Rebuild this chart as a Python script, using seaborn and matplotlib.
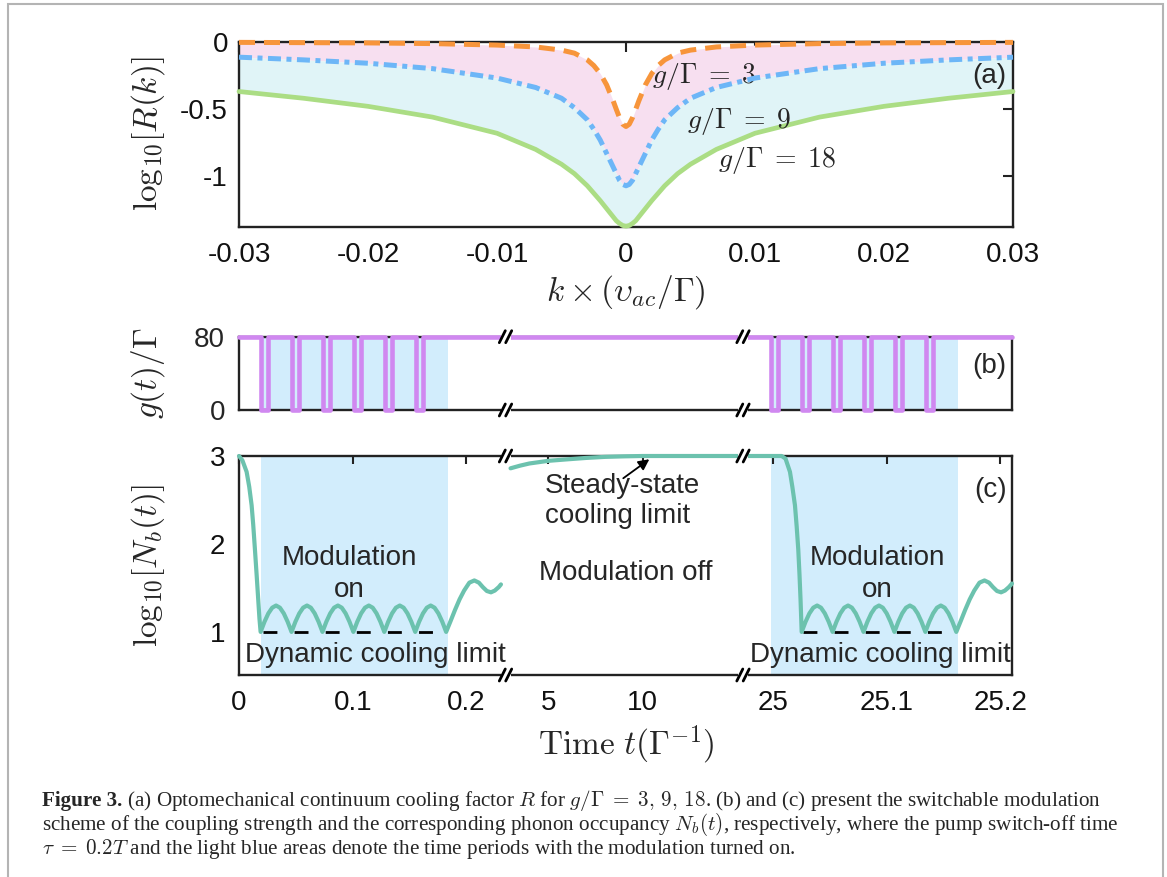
import numpy as np
import pandas as pd
import matplotlib
matplotlib.use("Agg")
import matplotlib.pyplot as plt
import seaborn as sns
from matplotlib.lines import Line2D
from matplotlib.patches import Rectangle

# ---------------- data ----------------
# panel (a): log10 R(k) for three coupling strengths
k_vals = [-0.03, -0.025, -0.02, -0.015, -0.01, -0.007, -0.005, -0.004, -0.003, -0.0025,
          -0.002, -0.0015, -0.001, -0.00075, -0.0005, -0.00025, 0.0, 0.00025, 0.0005,
          0.00075, 0.001, 0.0015, 0.002, 0.0025, 0.003, 0.004, 0.005, 0.007, 0.01,
          0.015, 0.02, 0.025, 0.03]
logR_g3 = [-0.005, -0.007, -0.009, -0.014, -0.025, -0.039, -0.0625, -0.085, -0.135, -0.177,
           -0.236, -0.321, -0.438, -0.503, -0.565, -0.613, -0.63, -0.613, -0.565, -0.503,
           -0.438, -0.321, -0.236, -0.177, -0.135, -0.085, -0.0625, -0.039, -0.025, -0.014,
           -0.009, -0.007, -0.005]
logR_g9 = [-0.115, -0.135, -0.16, -0.20, -0.27, -0.34, -0.42, -0.49, -0.58, -0.65,
           -0.73, -0.83, -0.93, -0.98, -1.03, -1.06, -1.07, -1.06, -1.03, -0.98,
           -0.93, -0.83, -0.73, -0.65, -0.58, -0.49, -0.42, -0.34, -0.27, -0.20,
           -0.16, -0.135, -0.115]
logR_g18 = [-0.37, -0.42, -0.48, -0.56, -0.68, -0.80, -0.91, -0.98, -1.07, -1.125,
            -1.18, -1.24, -1.30, -1.33, -1.35, -1.365, -1.37, -1.365, -1.35, -1.33,
            -1.30, -1.24, -1.18, -1.125, -1.07, -0.98, -0.91, -0.80, -0.68, -0.56,
            -0.48, -0.42, -0.37]
a_labels = [r"$g/\Gamma\;=\;3$", r"$g/\Gamma\;=\;9$", r"$g/\Gamma\;=\;18$"]
a_xticks = [-0.03, -0.02, -0.01, 0, 0.01, 0.02, 0.03]
a_xticklabels = ["-0.03", "-0.02", "-0.01", "0", "0.01", "0.02", "0.03"]
a_yticks = [0, -0.5, -1]
a_yticklabels = ["0", "-0.5", "-1"]

# panel (c): log10 N_b(t) on the three time windows
t_seg1 = [0.0, 0.003, 0.0067, 0.009, 0.0111, 0.0125, 0.014, 0.0155, 0.0169, 0.018, 0.019,
          0.0224, 0.0258, 0.0292, 0.0326, 0.036, 0.0394, 0.0428, 0.0462,
          0.0496, 0.053, 0.0564, 0.0598, 0.0632, 0.0666, 0.07, 0.0734,
          0.0768, 0.0802, 0.0836, 0.087, 0.0904, 0.0938, 0.0972, 0.1006,
          0.104, 0.1074, 0.1108, 0.1142, 0.1176, 0.121, 0.1244, 0.1278,
          0.1312, 0.1346, 0.138, 0.1414, 0.1448, 0.1482, 0.1516, 0.155,
          0.1584, 0.1618, 0.1652, 0.1686, 0.172, 0.1754, 0.1788, 0.1822,
          0.186, 0.19, 0.194, 0.198, 0.2026, 0.207, 0.211, 0.2144, 0.218, 0.2216,
          0.225, 0.2285, 0.2304]
nb_seg1 = [3.0, 2.95, 2.82, 2.65, 2.44, 2.22, 1.94, 1.65, 1.37, 1.15, 1.0,
           1.115, 1.21, 1.275, 1.30, 1.275, 1.21, 1.115, 1.0,
           1.115, 1.21, 1.275, 1.30, 1.275, 1.21, 1.115, 1.0,
           1.115, 1.21, 1.275, 1.30, 1.275, 1.21, 1.115, 1.0,
           1.115, 1.21, 1.275, 1.30, 1.275, 1.21, 1.115, 1.0,
           1.115, 1.21, 1.275, 1.30, 1.275, 1.21, 1.115, 1.0,
           1.115, 1.21, 1.275, 1.30, 1.275, 1.21, 1.115, 1.0,
           1.12, 1.25, 1.37, 1.47, 1.56, 1.585, 1.56, 1.51, 1.465, 1.45,
           1.47, 1.51, 1.54]
t_seg2 = [3.0, 3.5, 4.0, 5.0, 6.0, 7.0, 8.0, 9.0, 10.0, 12.0, 15.31]
nb_seg2 = [2.86, 2.89, 2.915, 2.945, 2.962, 2.978, 2.99, 2.996, 3.0, 3.0, 3.0]
t_seg3 = [24.9736, 25.0076, 25.011, 25.0149, 25.017, 25.0193, 25.0208, 25.0222, 25.0233,
          25.0242, 25.0248, 25.0252,
          25.0286, 25.032, 25.0354, 25.0388, 25.0422, 25.0456, 25.049, 25.0524,
          25.0558, 25.0592, 25.0626, 25.066, 25.0694, 25.0728, 25.0762, 25.0796,
          25.083, 25.0864, 25.0898, 25.0932, 25.0966, 25.1, 25.1034, 25.1068,
          25.1102, 25.1136, 25.117, 25.1204, 25.1238, 25.1272, 25.1306, 25.134,
          25.1374, 25.1408, 25.1442, 25.1476, 25.151, 25.1544, 25.1578, 25.1612,
          25.165, 25.169, 25.173, 25.177, 25.1816, 25.186, 25.19, 25.1934, 25.197,
          25.2006, 25.204, 25.2075, 25.2102]
nb_seg3 = [3.0, 3.0, 2.97, 2.82, 2.65, 2.44, 2.2, 1.94, 1.65, 1.37, 1.15, 1.0,
           1.115, 1.21, 1.275, 1.30, 1.275, 1.21, 1.115, 1.0,
           1.115, 1.21, 1.275, 1.30, 1.275, 1.21, 1.115, 1.0,
           1.115, 1.21, 1.275, 1.30, 1.275, 1.21, 1.115, 1.0,
           1.115, 1.21, 1.275, 1.30, 1.275, 1.21, 1.115, 1.0,
           1.115, 1.21, 1.275, 1.30, 1.275, 1.21, 1.115, 1.0,
           1.12, 1.25, 1.37, 1.47, 1.56, 1.585, 1.56, 1.51, 1.465,
           1.45, 1.47, 1.51, 1.55]

# panel (b): switch-off pulses of g(t)/Gamma
g_on = 80
g_off = 0
pulse_starts_seg1 = [0.0193, 0.0465, 0.0737, 0.1009, 0.1281, 0.1553]
pulse_starts_seg3 = [24.9982, 25.0254, 25.0526, 25.0798, 25.107, 25.1342]
pulse_width = 0.0065

# modulation-on windows and dynamic cooling limit
mod_on_seg1 = (0.0193, 0.1836)
mod_on_seg3 = (24.998, 25.1625)
dyn_limit = 1.0
dyn_span_seg1 = (0.0213, 0.1836)
dyn_span_seg3 = (25.0262, 25.1612)

seg_xlims = [(0.0, 0.2344), (2.733, 15.31), (24.9736, 25.2102)]
seg_xticks = [[0, 0.1, 0.2], [5, 10], [25, 25.1, 25.2]]
seg_xticklabels = [["0", "0.1", "0.2"], ["5", "10"], ["25", "25.1", "25.2"]]
c_yticks = [1, 2, 3]
b_yticks = [0, 80]

# ---------------- style ----------------
sns.set_theme(style="white")
plt.rcParams["font.family"] = ["Liberation Sans", "DejaVu Sans"]
plt.rcParams["mathtext.fontset"] = "cm"
plt.rcParams["axes.unicode_minus"] = False

ORANGE = "#f7953b"
BLUE = "#6db6f7"
GREEN = "#abdd84"
PINK = "#f7dff0"
CYAN = "#e0f4f7"
LBLUE = "#d2edfc"
PURPLE = "#d088f0"
TEAL = "#6cc2ae"
SPINE = "#222222"

W, H = 1167, 877
fig = plt.figure(figsize=(W / 100, H / 100), dpi=100)


def box(l, t, r, b):
    return [l / W, 1 - b / H, (r - l) / W, (b - t) / H]


def style_spines(ax):
    for s in ax.spines.values():
        s.set_color(SPINE)
        s.set_linewidth(1.7)


TICK_FS = 20

# ---------------- panel (a) ----------------
axA = fig.add_axes(box(239, 41.7, 1013, 226.7))
axA.fill_between(k_vals, logR_g9, logR_g3, color=PINK, lw=0, zorder=1)
axA.fill_between(k_vals, logR_g18, logR_g9, color=CYAN, lw=0, zorder=1)
sns.lineplot(x=k_vals, y=logR_g18, ax=axA, color=GREEN, lw=3.4, estimator=None,
             sort=False, zorder=3, clip_on=False)
sns.lineplot(x=k_vals, y=logR_g9, ax=axA, color=BLUE, lw=3.6, estimator=None,
             sort=False, zorder=4, linestyle=(0, (2.6, 1.1, 1.0, 1.1)), clip_on=False)
sns.lineplot(x=k_vals, y=logR_g3, ax=axA, color=ORANGE, lw=3.6, estimator=None,
             sort=False, zorder=5, linestyle=(0, (3.2, 1.8)), clip_on=False)
axA.set_xlim(-0.03, 0.03)
axA.set_ylim(-1.374, 0)
axA.set_xticks(a_xticks)
axA.set_xticklabels(a_xticklabels)
axA.set_yticks(a_yticks)
axA.set_yticklabels(a_yticklabels)
axA.tick_params(direction="in", length=7, width=1.5, labelsize=TICK_FS, top=True,
                right=True, color=SPINE, labelcolor="#111111")
axA.tick_params(axis="x", pad=11)
axA.tick_params(axis="y", pad=8)
style_spines(axA)
axA.set_xlabel("")
axA.set_ylabel("")
axA.text(0.00199, -0.31, a_labels[0], fontsize=20, ha="left", va="baseline")
axA.text(0.00475, -0.644, a_labels[1], fontsize=20, ha="left", va="baseline")
axA.text(0.00715, -0.929, a_labels[2], fontsize=20, ha="left", va="baseline")
axA.text(0.02945, -0.31, "(a)", fontsize=20, ha="right", va="baseline")
fig.text(148 / W, 1 - 134 / H, r"$\mathrm{log}_{10}[R(k)]$", fontsize=24, rotation=90,
         ha="center", va="center")
fig.text(626 / W, 1 - 292 / H, r"$k\times(\upsilon_{ac}/\Gamma)$", fontsize=24,
         ha="center", va="center")

# ---------------- panels (b) and (c) ----------------
bounds = [239, 505.5, 743, 1012]
axes_b, axes_c = [], []
for i in range(3):
    ab = fig.add_axes(box(bounds[i], 336.7, bounds[i + 1], 410))
    ac = fig.add_axes(box(bounds[i], 456, bounds[i + 1], 675))
    for ax in (ab, ac):
        ax.set_facecolor("none")
        style_spines(ax)
        if i > 0:
            ax.spines["left"].set_visible(False)
        if i < 2:
            ax.spines["right"].set_visible(False)
        ax.set_xlim(*seg_xlims[i])
    axes_b.append(ab)
    axes_c.append(ac)


def step_series(t0, t1, starts, width, hi, lo):
    ts, gs = [t0], [hi]
    for s in starts:
        ts += [s, s, s + width, s + width]
        gs += [hi, lo, lo, hi]
    ts.append(t1)
    gs.append(hi)
    return ts, gs


# (b)
for i, ab in enumerate(axes_b):
    if i == 0:
        ab.axvspan(*mod_on_seg1, color=LBLUE, lw=0, zorder=0)
        ts, gs = step_series(seg_xlims[0][0], seg_xlims[0][1], pulse_starts_seg1,
                             pulse_width, g_on, g_off)
    elif i == 1:
        ts, gs = [seg_xlims[1][0], seg_xlims[1][1]], [g_on, g_on]
    else:
        ab.axvspan(*mod_on_seg3, color=LBLUE, lw=0, zorder=0)
        ts, gs = step_series(seg_xlims[2][0], seg_xlims[2][1], pulse_starts_seg3,
                             pulse_width, g_on, g_off)
    sns.lineplot(x=ts, y=gs, ax=ab, color=PURPLE, lw=3.3, estimator=None, sort=False,
                 clip_on=False, zorder=3)
    ab.set_xlim(*seg_xlims[i])
    ab.set_ylim(0, 80)
    ab.set_xticks([])
    ab.set_xlabel("")
    ab.set_ylabel("")
    if i == 0:
        ab.set_yticks(b_yticks)
        ab.set_yticklabels([str(v) for v in b_yticks])
        ab.tick_params(axis="y", length=0, labelsize=TICK_FS, pad=10)
    else:
        ab.set_yticks([])
axes_b[2].text(25.2055, 40.0, "(b)", fontsize=20, ha="right", va="baseline")
fig.text(148 / W, 1 - 373 / H, r"$g(t)/\Gamma$", fontsize=24, rotation=90,
         ha="center", va="center")

# (c)
seg_t = [t_seg1, t_seg2, t_seg3]
seg_n = [nb_seg1, nb_seg2, nb_seg3]
for i, ac in enumerate(axes_c):
    if i == 0:
        ac.axvspan(*mod_on_seg1, color=LBLUE, lw=0, zorder=0)
        sns.lineplot(x=list(dyn_span_seg1), y=[dyn_limit, dyn_limit], ax=ac,
                     color="black", lw=2, linestyle=(0, (5.0, 6.2)), zorder=2,
                     estimator=None, sort=False)
    elif i == 2:
        ac.axvspan(*mod_on_seg3, color=LBLUE, lw=0, zorder=0)
        sns.lineplot(x=list(dyn_span_seg3), y=[dyn_limit, dyn_limit], ax=ac,
                     color="black", lw=2, linestyle=(0, (5.0, 6.2)), zorder=2,
                     estimator=None, sort=False)
    sns.lineplot(x=seg_t[i], y=seg_n[i], ax=ac, color=TEAL, lw=3.0, estimator=None,
                 sort=False, clip_on=False, zorder=3)
    ac.set_xlim(*seg_xlims[i])
    ac.set_ylim(0.51, 3.0)
    ac.set_xticks(seg_xticks[i])
    ac.set_xticklabels(seg_xticklabels[i])
    ac.tick_params(axis="x", direction="in", length=6, width=1.5, top=True,
                   labelsize=TICK_FS, pad=11, color=SPINE, labelcolor="#111111")
    ac.set_xlabel("")
    ac.set_ylabel("")
    if i == 0:
        ac.set_yticks(c_yticks)
        ac.set_yticklabels([str(v) for v in c_yticks])
        ac.tick_params(axis="y", direction="in", length=6, width=1.5,
                       labelsize=TICK_FS, pad=10, color=SPINE, labelcolor="#111111")
    else:
        ac.set_yticks([])

TXT_FS = 20
a0, a1, a2 = axes_c
a0.text(0.0969, 1.761, "Modulation", fontsize=TXT_FS, ha="center", va="baseline")
a0.text(0.0969, 1.401, "on", fontsize=TXT_FS, ha="center", va="baseline")
a0.text(0.1203, 0.663, "Dynamic cooling limit", fontsize=TXT_FS, ha="center",
        va="baseline", zorder=6)
a2.text(25.0919, 1.761, "Modulation", fontsize=TXT_FS, ha="center", va="baseline")
a2.text(25.0919, 1.401, "on", fontsize=TXT_FS, ha="center", va="baseline")
a2.text(25.0948, 0.663, "Dynamic cooling limit", fontsize=TXT_FS, ha="center",
        va="baseline")
a1.text(4.825, 2.576, "Steady-state", fontsize=TXT_FS, ha="left", va="baseline")
a1.text(4.825, 2.235, "cooling limit", fontsize=TXT_FS, ha="left", va="baseline")
a1.text(9.105, 1.591, "Modulation off", fontsize=TXT_FS, ha="center", va="baseline")
a1.annotate("", xy=(10.35, 2.963), xytext=(8.97, 2.747),
            arrowprops=dict(arrowstyle="-|>", color="black", lw=1.3,
                            mutation_scale=16, shrinkA=0, shrinkB=0))
a2.text(25.2055, 2.537, "(c)", fontsize=20, ha="right", va="baseline")
fig.text(148 / W, 1 - 566 / H, r"$\mathrm{log}_{10}[N_b(t)]$", fontsize=24, rotation=90,
         ha="center", va="center")
fig.text(626 / W, 1 - 745 / H, r"$\mathrm{Time}\ t(\Gamma^{-1})$", fontsize=24,
         ha="center", va="center")


# break marks "//"
def break_mark(xpx, ypx):
    fig.add_artist(Rectangle(((xpx - 5) / W, 1 - (ypx + 5) / H), 10 / W, 10 / H,
                             transform=fig.transFigure, facecolor="white",
                             edgecolor="none", zorder=20))
    for dx in (-3.2, 3.2):
        fig.add_artist(Line2D([(xpx + dx - 3) / W, (xpx + dx + 3) / W],
                              [1 - (ypx + 6) / H, 1 - (ypx - 6) / H],
                              transform=fig.transFigure, color="black", lw=2.0,
                              zorder=21))


for xb in (505.5, 743):
    for yb in (336.7, 410, 456, 675):
        break_mark(xb, yb)

# ---------------- caption ----------------
SERIF = ["Liberation Serif", "DejaVu Serif"]
cap_x = 42 / W
base_fs = 14
line1_rest = (r" (a) Optomechanical continuum cooling factor $R$ for "
              r"$g/\Gamma\;=\;3,\,9,\,18$. (b) and (c) present the switchable modulation")
line2 = (r"scheme of the coupling strength and the corresponding phonon occupancy "
         r"$N_b(t)$, respectively, where the pump switch-off time")
line3 = (r"$\tau\;=\;0.2T$ and the light blue areas denote the time periods with the "
         r"modulation turned on.")
t_bold = fig.text(cap_x, 1 - 806 / H, "Figure 3.", fontsize=base_fs, fontweight="bold",
                  family=SERIF, va="baseline", ha="left")
t_rest = fig.text(cap_x, 1 - 806 / H, line1_rest, fontsize=base_fs, family=SERIF,
                  va="baseline", ha="left")
t_l2 = fig.text(cap_x, 1 - 830 / H, line2, fontsize=base_fs, family=SERIF,
                va="baseline", ha="left")
t_l3 = fig.text(cap_x, 1 - 854 / H, line3, fontsize=base_fs, family=SERIF,
                va="baseline", ha="left")
fig.canvas.draw()
renderer = fig.canvas.get_renderer()
w2 = t_l2.get_window_extent(renderer).width
fs = base_fs * (1121 - 42) / w2
fs = min(fs, 15.5)
for t in (t_bold, t_rest, t_l2, t_l3):
    t.set_fontsize(fs)
fig.canvas.draw()
wb = t_bold.get_window_extent(renderer).width
t_rest.set_x(cap_x + wb / W)

# light grey frame around the figure
fig.add_artist(Rectangle((8 / W, -0.05), (1163 - 8) / W, 1.05 - 4 / H,
                         transform=fig.transFigure, fill=False,
                         edgecolor="#b4b4b4", lw=1.5, zorder=30))

fig.savefig("out.png", dpi=100)
